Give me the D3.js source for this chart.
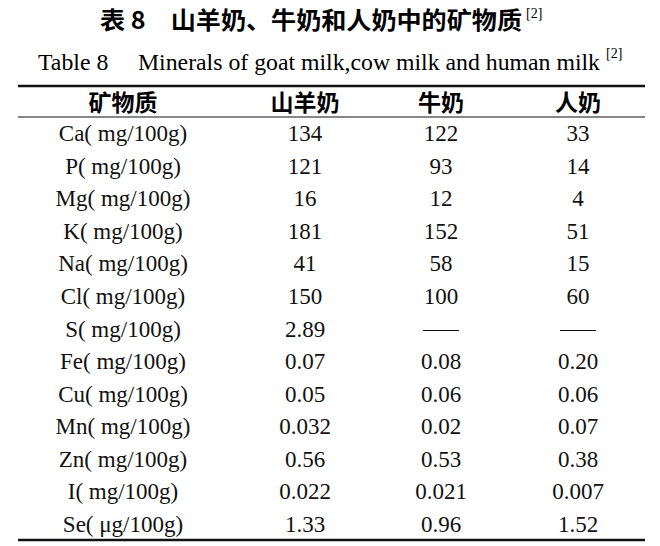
<!DOCTYPE html>
<html><head><meta charset="utf-8">
<script src="https://cdn.jsdelivr.net/npm/d3@7"></script>
<style>body{margin:0;background:#fff}</style>
</head><body>
<script>
var headers = ["矿物质", "山羊奶", "牛奶", "人奶"];
var minerals = ["Ca( mg/100g)", "P( mg/100g)", "Mg( mg/100g)", "K( mg/100g)", "Na( mg/100g)", "Cl( mg/100g)", "S( mg/100g)", "Fe( mg/100g)", "Cu( mg/100g)", "Mn( mg/100g)", "Zn( mg/100g)", "I( mg/100g)", "Se( μg/100g)"];
var goat = ["134", "121", "16", "181", "41", "150", "2.89", "0.07", "0.05", "0.032", "0.56", "0.022", "1.33"];
var cow = ["122", "93", "12", "152", "58", "100", "", "0.08", "0.06", "0.02", "0.53", "0.021", "0.96"];
var human = ["33", "14", "4", "51", "15", "60", "", "0.20", "0.06", "0.07", "0.38", "0.007", "1.52"];

var width = 660, height = 546;
var svg = d3.select("body").append("svg").attr("width", width).attr("height", height);

// column centers
var colX = d3.scaleOrdinal().domain([0, 1, 2, 3]).range([123, 305, 441, 578]);
var y = d3.scaleBand().domain(d3.range(minerals.length)).range([117, 540]);

var serif = "'Liberation Serif', 'Times New Roman', serif";
var cjk = "'Noto Sans CJK SC', sans-serif";

svg.append("text").attr("x", 100).attr("y", 29)
    .attr("textLength", 422).attr("lengthAdjust", "spacingAndGlyphs")
    .style("font", "bold 24px " + cjk).text("表 8\u2003山羊奶、牛奶和人奶中的矿物质");
svg.append("text").attr("x", 526).attr("y", 18).style("font", "14px " + serif).text("[2]");
svg.append("text").attr("x", 38).attr("y", 70)
    .attr("textLength", 562).attr("lengthAdjust", "spacingAndGlyphs")
    .style("font", "23px " + serif).text("Table 8\u2003 Minerals of goat milk,cow milk and human milk");
svg.append("text").attr("x", 606).attr("y", 58).style("font", "14px " + serif).text("[2]");

svg.append("line").attr("x1", 18).attr("x2", 645).attr("y1", 86).attr("y2", 86).attr("stroke", "#111").attr("stroke-width", 2.5);
svg.append("line").attr("x1", 18).attr("x2", 645).attr("y1", 117).attr("y2", 117).attr("stroke", "#111").attr("stroke-width", 1.2);
svg.append("line").attr("x1", 18).attr("x2", 645).attr("y1", 540).attr("y2", 540).attr("stroke", "#111").attr("stroke-width", 2.5);

svg.selectAll(".hdr").data(headers).enter().append("text")
    .attr("x", function(d, i) { return colX(i); }).attr("y", 111)
    .attr("text-anchor", "middle").style("font", "bold 23px " + cjk).text(function(d) { return d; });

var rows = minerals.map(function(m, i) { return [m, goat[i], cow[i], human[i]]; });
var g = svg.selectAll(".row").data(rows).enter().append("g")
    .attr("transform", function(d, i) { return "translate(0," + (y(i) + y.bandwidth() / 2 + 8) + ")"; });

g.each(function(r) {
    var row = d3.select(this);
    r.forEach(function(v, j) {
        if (v === "" && j > 0) {
            row.append("line").attr("x1", colX(j) - 18).attr("x2", colX(j) + 18)
                .attr("y1", -6).attr("y2", -6).attr("stroke", "#111").attr("stroke-width", 1);
        } else {
            row.append("text").attr("x", colX(j)).attr("text-anchor", "middle")
                .style("font", "23px " + serif).style("fill", "#111").text(v);
        }
    });
});
</script>
</body></html>
